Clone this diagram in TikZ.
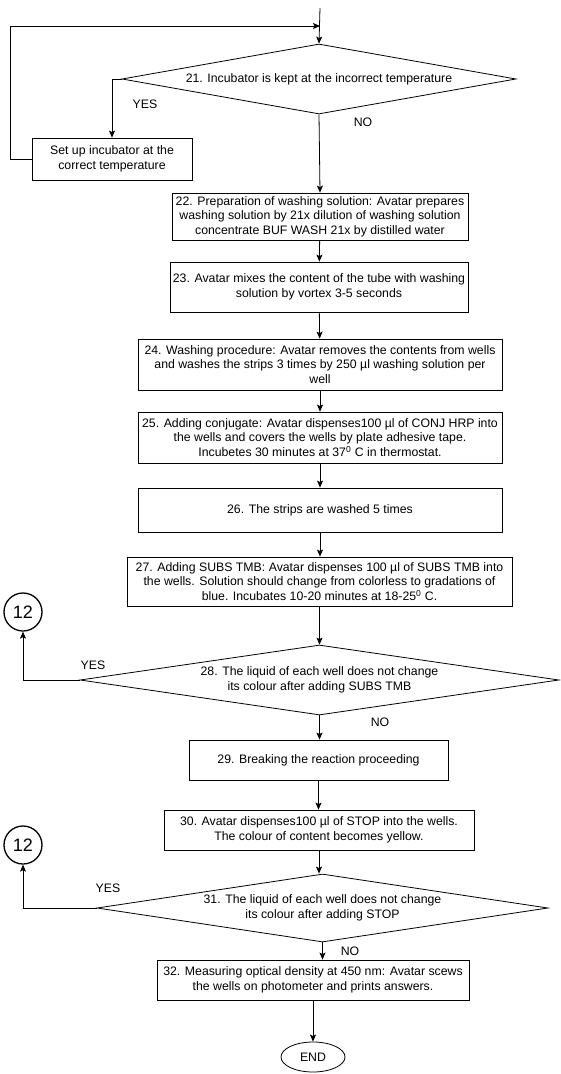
\documentclass[tikz,border=0pt]{standalone}
\usepackage{fontspec}
\setmainfont{Liberation Sans}
\usetikzlibrary{arrows.meta,shapes.geometric}

\begin{document}
\begin{tikzpicture}[x=1pt,y=-1pt,line width=.8pt,
  >={Stealth[length=7pt,width=6pt,inset=1.5pt]},
  txt/.style={font=\fontsize{12.3}{14.5}\selectfont,align=center,inner sep=0pt},
  procbox/.style={txt,draw,rectangle,minimum width=#1},
  decbox/.style={txt,draw,diamond,aspect=6},
  conn/.style={circle,draw,line width=1.3pt,minimum size=38pt,inner sep=0pt,font=\fontsize{18}{18}\selectfont}]
\useasboundingbox (0,0) rectangle (560,1074);
\coordinate (start) at (320,8);
\coordinate (join) at (320,26);
\node[decbox,minimum width=394pt,minimum height=70pt] (d21) at (319,79) {21. Incubator is kept at the incorrect temperature};
\node[procbox=160pt,minimum height=42pt] (setup) at (112,159) {Set up incubator at the\\correct temperature};
\node[procbox=296pt,minimum height=47pt] (b22) at (320,216.5) {22. Preparation of washing solution: Avatar prepares\\washing solution by 21x dilution of washing solution\\concentrate BUF WASH 21x by distilled water};
\node[procbox=298pt,minimum height=50pt] (b23) at (319,287) {23. Avatar mixes the content of the tube with washing\\solution by vortex 3-5 seconds};
\node[procbox=364pt,minimum height=51pt] (b24) at (320,364.5) {24. Washing procedure: Avatar removes the contents from wells\\and washes the strips 3 times by 250 µl washing solution per\\well};
\node[procbox=364pt,minimum height=51pt] (b25) at (320,437.5) {25. Adding conjugate: Avatar dispenses100 µl of CONJ HRP into\\the wells and covers the wells by plate adhesive tape.\\Incubetes 30 minutes at 37\textsuperscript{0} C in thermostat.};
\node[procbox=364pt,minimum height=44pt] (b26) at (320,510) {26. The strips are washed 5 times};
\node[procbox=385pt,minimum height=49pt] (b27) at (319.5,581.5) {27. Adding SUBS TMB: Avatar dispenses 100 µl of SUBS TMB into\\the wells. Solution should change from colorless to gradations of\\blue. Incubates 10-20 minutes at 18-25\textsuperscript{0} C.};
\node[decbox,minimum width=479pt,minimum height=70pt] (d28) at (319.5,680) {28. The liquid of each well does not change\\its colour after adding SUBS TMB};
\node[conn] (c12a) at (23,612) {12};
\node[procbox=259pt,minimum height=40pt] (b29) at (318.5,760) {29. Breaking the reaction proceeding};
\node[procbox=310pt,minimum height=40pt] (b30) at (319,830) {30. Avatar dispenses100 µl of STOP into the wells.\\The colour of content becomes yellow.};
\node[decbox,minimum width=451pt,minimum height=68pt] (d31) at (322.5,908) {31. The liquid of each well does not change\\its colour after adding STOP};
\node[conn] (c12b) at (23,845) {12};
\node[procbox=312pt,minimum height=40pt] (b32) at (313,980) {32. Measuring optical density at 450 nm: Avatar scews\\the wells on photometer and prints answers.};
\node[txt,draw,ellipse,minimum width=64pt,minimum height=30pt] (end) at (313,1057) {END};
\node[txt] at (145,104) {YES};
\node[txt] at (363,122) {NO};
\node[txt] at (93,665) {YES};
\node[txt] at (380,722) {NO};
\node[txt] at (108,888) {YES};
\node[txt] at (350,951) {NO};
\draw[->] (start) -- (d21.north);
\draw[->] (d21.west) -| (setup.north);
\draw[->] (setup.west) -- ++(-21,0) |- (join);
\draw[->] (d21.south) -- (b22.north);
\draw[->] (b22) -- (b23);
\draw[->] (b23) -- (b24);
\draw[->] (b24) -- (b25);
\draw[->] (b25) -- (b26);
\draw[->] (b26.south) -- (b26.south|-b27.north);
\draw[->] (b27.south) -- (b27.south|-d28.north);
\draw[->] (d28.west) -| (c12a.south);
\draw[->] (d28.south) -- (d28.south|-b29.north);
\draw[->] (b29.south) -- (b29.south|-b30.north);
\draw[->] (b30.south) -- (b30.south|-d31.north);
\draw[->] (d31.west) -| (c12b.south);
\draw[->] (d31.south) -- (d31.south|-b32.north);
\draw[->] (b32) -- (end);
\end{tikzpicture}
\end{document}
